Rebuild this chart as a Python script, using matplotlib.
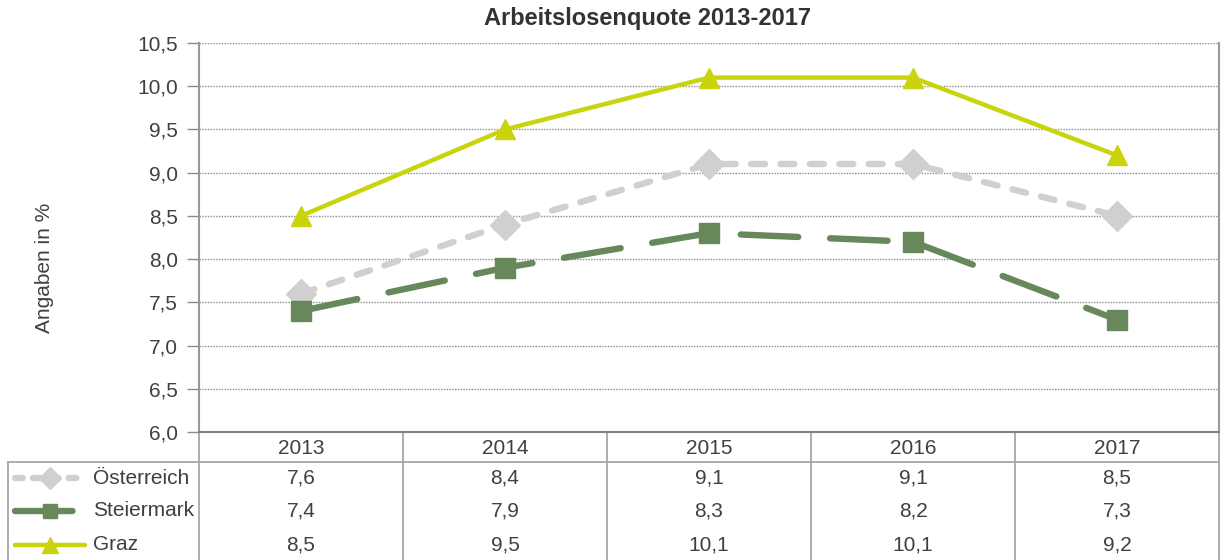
import matplotlib
matplotlib.use('Agg')
import matplotlib.pyplot as plt
import matplotlib.transforms as mtransforms
from matplotlib.lines import Line2D

# ----------------------- Data -----------------------
years = ['2013', '2014', '2015', '2016', '2017']
series_names = ['Österreich', 'Steiermark', 'Graz']
oesterreich = [7.6, 8.4, 9.1, 9.1, 8.5]
steiermark = [7.4, 7.9, 8.3, 8.2, 7.3]
graz = [8.5, 9.5, 10.1, 10.1, 9.2]
y_ticks = [6.0, 6.5, 7.0, 7.5, 8.0, 8.5, 9.0, 9.5, 10.0, 10.5]

plt.rcParams['font.family'] = ['Liberation Sans', 'DejaVu Sans']
TXT = '#404040'
GRID = '#8c8c8c'
BORDER = '#a6a6a6'
FS = 15

W, H = 1225, 560
fig = plt.figure(figsize=(W / 100, H / 100), dpi=100)

def fx(x):
    return x / W

def fy(y):
    return 1 - y / H

# plot area (pixel bounds)
left, right, top, bottom = 199, 1219, 43, 432
ax = fig.add_axes([fx(left), fy(bottom), fx(right - left), fy(top) - fy(bottom)])

# style per series: color, linewidth, dashes, marker, markersize
styles = {
    'Österreich': dict(color='#d0d0d0', lw=4.6, dashes=(2.2, 2.4), marker='D', ms=15),
    'Steiermark': dict(color='#66885a', lw=4.6, dashes=(9.0, 5.0), marker='s', ms=14),
    'Graz': dict(color='#c9d40c', lw=3.2, dashes=None, marker='^', ms=15),
}
values = {'Österreich': oesterreich, 'Steiermark': steiermark, 'Graz': graz}

x = list(range(len(years)))
for name in series_names:
    st = styles[name]
    line, = ax.plot(x, values[name], color=st['color'], lw=st['lw'],
                    marker=st['marker'], ms=st['ms'], mec=st['color'],
                    solid_capstyle='round', dash_capstyle='round', zorder=3)
    if st['dashes']:
        line.set_dashes(st['dashes'])

ax.set_xlim(-0.5, len(years) - 0.5)
ax.set_ylim(6.0, 10.5)
ax.set_yticks(y_ticks)
ax.set_yticklabels([('%.1f' % v).replace('.', ',') for v in y_ticks])
ax.tick_params(axis='y', labelsize=FS, colors=TXT, length=9, width=1, color=GRID, pad=6)
ax.tick_params(axis='x', length=0, labelbottom=False)
ax.set_xticks([])
ax.yaxis.grid(True, color=GRID, lw=1, linestyle=(0, (1, 1)))
ax.set_axisbelow(True)

ax.spines['top'].set_visible(False)
ax.spines['left'].set_color('#999999')
ax.spines['left'].set_linewidth(1.5)
ax.spines['right'].set_color('#999999')
ax.spines['right'].set_linewidth(1.5)
ax.spines['bottom'].set_color('#808080')
ax.spines['bottom'].set_linewidth(1.5)

fig.text(fx(648), fy(19), 'Arbeitslosenquote 2013-2017', fontsize=17, fontweight='bold',
         color='#333333', ha='center', va='center')
fig.text(fx(45), fy(268), 'Angaben in %', rotation=90, fontsize=FS, color=TXT,
         ha='center', va='center')

# ----------------------- Data table -----------------------
blend = mtransforms.blended_transform_factory(ax.transData, fig.transFigure)
header_y = 449
row_ys = [478, 511, 545]
sep_y = 462

# lines of the table
fig.add_artist(Line2D([fx(8), fx(right)], [fy(sep_y), fy(sep_y)], color=BORDER, lw=1.3))
fig.add_artist(Line2D([fx(8), fx(8)], [fy(sep_y), fy(H)], color=BORDER, lw=1.3))
for i in range(len(years) + 1):
    xb = i - 0.5
    ax.add_artist(Line2D([xb, xb], [fy(bottom), 0], color=BORDER, lw=1.3,
                         transform=blend, clip_on=False))

for i, yr in enumerate(years):
    ax.text(i, fy(header_y), yr, transform=blend, ha='center', va='center',
            fontsize=FS, color=TXT, clip_on=False)

for name, ry in zip(series_names, row_ys):
    for i, v in enumerate(values[name]):
        ax.text(i, fy(ry), ('%.1f' % v).replace('.', ','), transform=blend,
                ha='center', va='center', fontsize=FS, color=TXT, clip_on=False)
    st = styles[name]
    key = Line2D([fx(15), fx(50), fx(85)], [fy(ry)] * 3, color=st['color'], lw=st['lw'],
                 marker=st['marker'], ms=st['ms'] * 0.75, mec=st['color'], markevery=[1],
                 solid_capstyle='round', dash_capstyle='round')
    if st['dashes']:
        key.set_dashes((1.2, 1.6) if name == 'Österreich' else st['dashes'])
    fig.add_artist(key)
    fig.text(fx(93), fy(ry), name, ha='left', va='center', fontsize=FS, color=TXT)

fig.savefig('out.png', dpi=100)
